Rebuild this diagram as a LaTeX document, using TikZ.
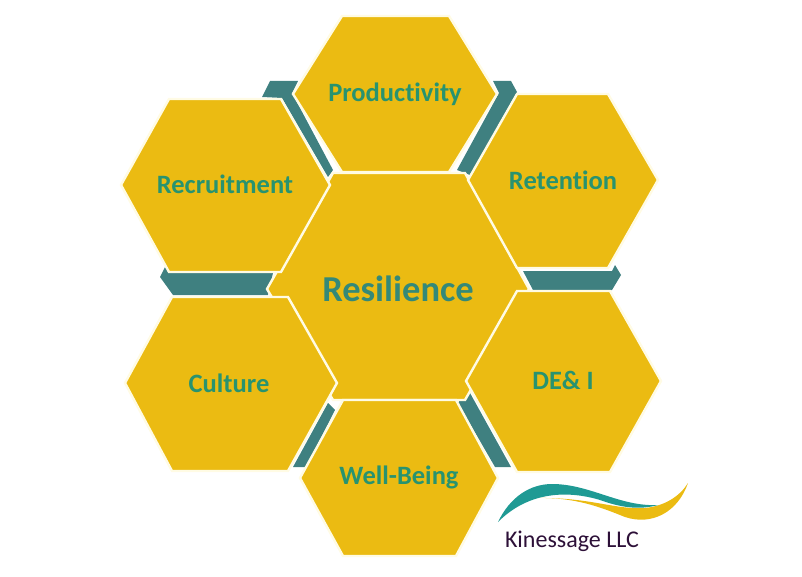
\documentclass[tikz,border=0pt]{standalone}
\usepackage{fontspec}
\setmainfont{Carlito}[Ligatures=NoCommon]
\usepackage{tikz}
\definecolor{honey}{HTML}{EBBB12}
\definecolor{rim}{HTML}{FFFBE4}
\definecolor{slate}{HTML}{3F8080}
\definecolor{leaf}{HTML}{28936F}
\definecolor{wave}{HTML}{1F9A94}
\definecolor{plum}{HTML}{2D1038}
\tikzset{
	cell/.style={fill=honey, draw=rim, line width=2.4pt, line join=miter},
	band/.style={fill=slate, draw=none},
	celltext/.style={text=leaf, font=\bfseries\fontsize{26.5}{30}\selectfont, inner sep=0pt},
}
\begin{document}
\begin{tikzpicture}[x=1pt,y=-1pt]
		\useasboundingbox (0,0) rectangle (802,577);
		% bands behind the cells
		\fill[band] (270,81)--(298,81)--(292,93)--(333,170)--(328,177)--(282,98)--(262,97)--cycle;
		\fill[band] (493,81)--(511,81)--(517,92)--(470,175)--(457,170)--(499,93)--cycle;
		\fill[band] (523,271)--(612,271)--(615,265)--(621,275)--(612,290)--(533,290)--cycle;
		\fill[band] (165,267)--(160,277)--(173,295)--(268,295)--(273,273)--(170,273)--cycle;
		\fill[band] (328,403)--(335,410)--(306,467)--(293,467)--cycle;
		\fill[band] (465,393)--(458,403)--(495,467)--(511,467)--(470,393)--cycle;
		% left, edge left, edge right, right, top, bottom, middle
		\foreach \l/\a/\b/\r/\t/\u/\m in {267/333/465/529/173/400/289, 293/342/449/497/16/172/94, 121/169/281/330/99/272/185, 468/517/608/658/94/268/180, 125/172/288/337/297/471/383, 466/517/610/661/291/472/381, 300/343/456/498/400/556/478}
			\draw[cell] (\l,\m) -- (\a,\t) -- (\b,\t) -- (\r,\m) -- (\b,\u) -- (\a,\u) -- cycle;
		\node[celltext] (productivity) at (395,94) {Productivity};
		\node[celltext] (recruitment) at (225,184) {Recruitment};
		\node[celltext] (retention) at (563,180) {Retention};
		\node[celltext, font=\bfseries\fontsize{36.5}{40}\selectfont, text=slate!50!leaf] (resilience) at (398,289) {Resilience};
		\node[celltext] (culture) at (229,383) {Culture};
		\node[celltext] (dei) at (563,380) {DE\& I};
		\node[celltext] (wellbeing) at (399,477) {Well-Being};
		% logo
		\fill[honey] (535,498) .. controls (575,497) and (600,507) .. (625,517) .. controls (652,526) and (678,512) .. (688,483) .. controls (680,496) and (665,506) .. (645,508) .. controls (615,510) and (590,497) .. (535,498) -- cycle;
		\fill[wave] (498,522) .. controls (510,497) and (530,484) .. (552,484) .. controls (590,484) and (620,507) .. (658,505) .. controls (640,510) and (622,508) .. (600,500) .. controls (570,491) and (530,490) .. (498,522) -- cycle;
		\node[text=plum, font=\fontsize{24}{28}\selectfont, inner sep=0pt] (kinessage) at (572,541) {Kinessage LLC};
	\end{tikzpicture}
\end{document}
